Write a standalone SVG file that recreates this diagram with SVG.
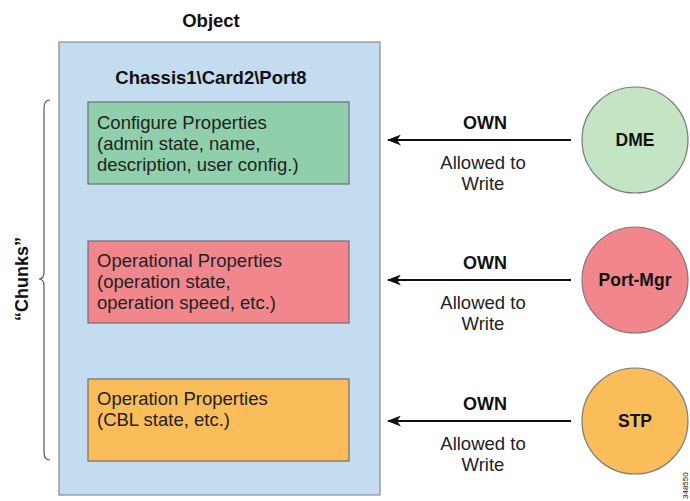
<svg xmlns="http://www.w3.org/2000/svg" width="690" height="501" viewBox="0 0 690 501">
<defs>
<style>
text{font-family:"Liberation Sans",Arial,sans-serif;fill:#111}
.b{font-weight:bold}
.t{font-size:18.5px;fill:#222}
.own{font-size:18px;font-weight:bold;text-anchor:middle}
.aw{font-size:18.5px;text-anchor:middle;fill:#222}
.nd{font-size:17.5px;font-weight:bold;text-anchor:middle}
.box{stroke:#6e6e6e;stroke-width:1.2}
.circ{stroke:#7a7a7a;stroke-width:1.2}
.conn{stroke:#111;stroke-width:2;fill:none}
</style>
<marker id="ah" viewBox="0 0 14 11" refX="13" refY="5.5" markerWidth="14" markerHeight="11" markerUnits="userSpaceOnUse" orient="auto">
<path d="M0,0 L14,5.5 L0,11 L4,5.5 Z" fill="#111"/>
</marker>
</defs>
<rect width="690" height="501" fill="#fff"/>
<g id="object">
<text x="211" y="27" class="b" font-size="18.5" text-anchor="middle">Object</text>
<rect x="59" y="42" width="321" height="453" fill="#c3dcef" stroke="#8a8a8a" stroke-width="1.2"/>
<text x="211" y="84" class="b" font-size="18.5" text-anchor="middle">Chassis1\Card2\Port8</text>
</g>
<g id="chunks">
<path d="M50,100 Q44,100 44,108 L44,272 Q44,279 39,279 Q44,279 44,286 L44,452 Q44,460 50,460" fill="none" stroke="#555" stroke-width="1.2"/>
<text transform="translate(28,279) rotate(-90)" class="b" font-size="18" text-anchor="middle">“Chunks”</text>
</g>
<g id="configure">
<rect x="88" y="102" width="261" height="82" fill="#8fcfab" class="box"/>
<text class="t"><tspan x="97" y="129">Configure Properties</tspan><tspan x="97" y="150">(admin state, name,</tspan><tspan x="97" y="171">description, user config.)</tspan></text>
</g>
<g id="operational">
<rect x="88" y="241" width="261" height="82" fill="#f2868d" class="box"/>
<text class="t"><tspan x="97" y="267">Operational Properties</tspan><tspan x="97" y="288">(operation state,</tspan><tspan x="97" y="309">operation speed, etc.)</tspan></text>
</g>
<g id="operation">
<rect x="88" y="379" width="261" height="82" fill="#fbbc5a" class="box"/>
<text class="t"><tspan x="97" y="405">Operation Properties</tspan><tspan x="97" y="426">(CBL state, etc.)</tspan></text>
</g>
<g id="dme">
<circle cx="635" cy="140" r="53" fill="#c4e5c4" class="circ"/>
<text x="635" y="146" class="nd">DME</text>
</g>
<g id="portmgr">
<circle cx="635" cy="280" r="53" fill="#f2868d" class="circ"/>
<text x="635" y="286" class="nd">Port-Mgr</text>
</g>
<g id="stp">
<circle cx="635" cy="421" r="53" fill="#fbbc5a" class="circ"/>
<text x="635" y="427" class="nd">STP</text>
</g>
<g id="connectors">
<line x1="571" y1="140" x2="388" y2="140" class="conn" marker-end="url(#ah)"/>
<text x="485" y="129" class="own">OWN</text>
<text class="aw"><tspan x="483" y="169">Allowed to</tspan><tspan x="483" y="190">Write</tspan></text>
<line x1="571" y1="280" x2="388" y2="280" class="conn" marker-end="url(#ah)"/>
<text x="485" y="269" class="own">OWN</text>
<text class="aw"><tspan x="483" y="309">Allowed to</tspan><tspan x="483" y="330">Write</tspan></text>
<line x1="571" y1="421" x2="388" y2="421" class="conn" marker-end="url(#ah)"/>
<text x="485" y="410" class="own">OWN</text>
<text class="aw"><tspan x="483" y="450">Allowed to</tspan><tspan x="483" y="471">Write</tspan></text>
</g>
<text transform="translate(688,499) rotate(-90)" font-size="8" fill="#222">348550</text>
</svg>
